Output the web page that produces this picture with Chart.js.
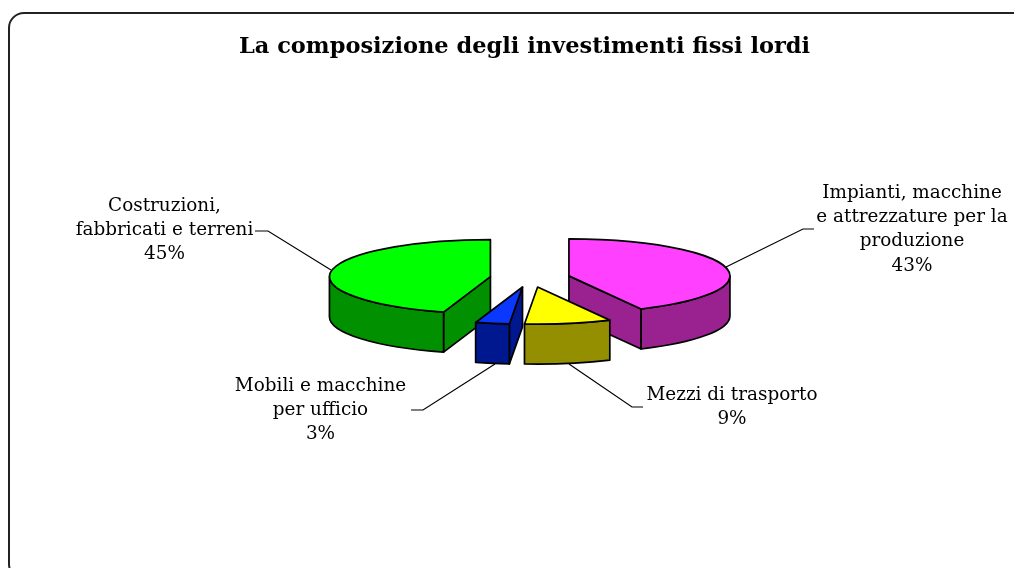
<!DOCTYPE html>
<html>
<head>
<meta charset="utf-8">
<title>La composizione degli investimenti fissi lordi</title>
<script src="https://cdn.jsdelivr.net/npm/chart.js@4/dist/chart.umd.min.js"></script>
<style>
  html, body { margin: 0; padding: 0; background: #fff; overflow: hidden; }
  canvas { display: block; }
</style>
</head>
<body>
<canvas id="myChart" width="1014" height="568"></canvas>
<script>
const TITLE = "La composizione degli investimenti fissi lordi"

const categories = [
  ["Impianti, macchine", "e attrezzature per la", "produzione"],
  ["Mezzi di trasporto"],
  ["Mobili e macchine", "per ufficio"],
  ["Costruzioni,", "fabbricati e terreni"]
]
const shares = [42.6, 8.7, 3.4, 45.3]

const topColors = ["#ff40ff", "#ffff00", "#0a38ff", "#00ff00"]
const sideColors = ["#992190", "#938f00", "#00188f", "#009000"]

const FONT = '"DejaVu Serif", serif'

// squashes the pie into a flat 3d disc
const tilt = 0.23
const depth = 40
const centerShift = 5.5

// text anchor, elbow and wall end of each leader line, same order as categories
const labelBoxes = [
  { x: 912, y: 193, line: [[814, 229], [803, 229], [726, 267]] },
  { x: 732, y: 395, line: [[643, 407], [632, 407], [569, 364]] },
  { x: 320.5, y: 386, line: [[411, 410], [423, 410], [495, 364]] },
  { x: 164.5, y: 206, line: [[255, 231], [268, 231], [331, 270]] }
]

const frame = {
  id: "frame",
  beforeDraw(chart) {
    const ctx = chart.ctx
    ctx.save()
    ctx.strokeStyle = "#222"
    ctx.lineWidth = 2
    ctx.beginPath()
    ctx.roundRect(9, 13, 1100, 566, 15)
    ctx.stroke()
    ctx.restore()
  }
}

function drawSlice(ctx, arc, side) {
  const p = arc.getProps(["x", "y", "startAngle", "endAngle", "outerRadius"])
  const mid = (p.startAngle + p.endAngle) / 2
  const shift = arc.options.offset
  const cx = p.x + centerShift + Math.cos(mid) * shift
  const cy = p.y + Math.sin(mid) * shift * tilt
  const rx = p.outerRadius
  const ry = rx * tilt
  const edge = a => [cx + rx * Math.cos(a), cy + ry * Math.sin(a)]

  ctx.lineWidth = 1.7
  ctx.strokeStyle = "#000"
  ctx.lineJoin = "round"

  // radial walls, only the ones turned towards the viewer
  const walls = [[p.startAngle, Math.sin(p.startAngle - Math.PI / 2)], [p.endAngle, Math.sin(p.endAngle + Math.PI / 2)]]
  walls.forEach(function (w) {
    if (w[1] <= 0.001) return
    const e = edge(w[0])
    ctx.beginPath()
    ctx.moveTo(cx, cy)
    ctx.lineTo(e[0], e[1])
    ctx.lineTo(e[0], e[1] + depth)
    ctx.lineTo(cx, cy + depth)
    ctx.closePath()
    ctx.fillStyle = side
    ctx.fill()
    ctx.stroke()
  })

  // outer wall, front half of the ellipse
  const a = Math.max(p.startAngle, 0)
  const b = Math.min(p.endAngle, Math.PI)
  if (a < b) {
    ctx.beginPath()
    ctx.ellipse(cx, cy, rx, ry, 0, a, b)
    ctx.ellipse(cx, cy + depth, rx, ry, 0, b, a, true)
    ctx.closePath()
    ctx.fillStyle = side
    ctx.fill()
    ctx.stroke()
  }

  // top face
  ctx.beginPath()
  ctx.moveTo(cx, cy)
  ctx.ellipse(cx, cy, rx, ry, 0, p.startAngle, p.endAngle)
  ctx.closePath()
  ctx.fillStyle = arc.options.backgroundColor
  ctx.fill()
  ctx.stroke()
}

const disc = {
  id: "disc",
  beforeDatasetDraw(chart, args) {
    const ctx = chart.ctx
    const ds = chart.data.datasets[args.index]
    const arcs = args.meta.data
    const order = arcs.map((arc, i) => i)
    // back slices first
    order.sort(function (i, j) {
      const mi = (arcs[i].startAngle + arcs[i].endAngle) / 2
      const mj = (arcs[j].startAngle + arcs[j].endAngle) / 2
      return Math.sin(mi) - Math.sin(mj)
    })

    ctx.save()
    order.forEach(i => drawSlice(ctx, arcs[i], ds.sideColor[i]))
    ctx.restore()
    return false
  }
}

const callouts = {
  id: "callouts",
  afterDraw(chart) {
    const ctx = chart.ctx
    ctx.save()
    ctx.font = "18.4px " + FONT
    ctx.textAlign = "center"
    ctx.textBaseline = "middle"
    ctx.fillStyle = "#000"
    categories.forEach(function (lines, i) {
      const box = labelBoxes[i]
      const text = lines.concat([Math.round(shares[i]) + "%"])
      text.forEach((t, n) => ctx.fillText(t, box.x, box.y + n * 24.3))

      ctx.strokeStyle = "#000"
      ctx.lineWidth = 1.2
      ctx.beginPath()
      box.line.forEach((pt, n) => n ? ctx.lineTo(pt[0], pt[1]) : ctx.moveTo(pt[0], pt[1]))
      ctx.stroke()
    })
    ctx.restore()
  }
}

new Chart(document.getElementById("myChart").getContext("2d"), {
  type: "pie",
  data: {
    labels: categories,
    datasets: [{
      data: shares,
      backgroundColor: topColors,
      sideColor: sideColors,
      offset: 40,
      borderWidth: 0
    }]
  },
  options: {
    responsive: false,
    animation: false,
    radius: 161,
    layout: { padding: { left: 35, bottom: 73 } },
    plugins: {
      legend: { display: false },
      tooltip: { enabled: false },
      title: {
        display: true,
        text: TITLE,
        color: "#000",
        font: { family: FONT, size: 22.5, weight: "bold" },
        padding: { top: 34, bottom: 0 }
      }
    }
  },
  plugins: [frame, disc, callouts]
})
</script>
</body>
</html>
